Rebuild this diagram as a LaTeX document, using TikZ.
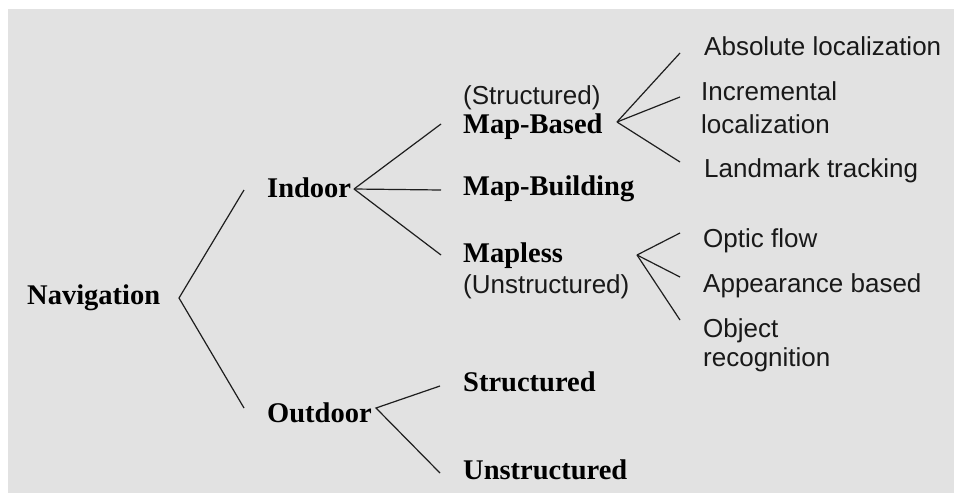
\documentclass[tikz,border=0pt]{standalone}
\usepackage{fontspec}
\setmainfont{Liberation Serif}
\newfontfamily\labelsans{Liberation Sans}
\definecolor{bgmarble}{RGB}{226,226,226}
\definecolor{inkline}{RGB}{30,30,30}
\begin{document}
\begin{tikzpicture}[x=1pt,y=-1pt,
  boldlbl/.style={anchor=base west,inner sep=0pt,font=\fontsize{28.5}{34}\selectfont\bfseries,text=black},
  sanslbl/.style={anchor=base west,inner sep=0pt,font=\labelsans\fontsize{26}{31}\selectfont,text=black!90},
  branch/.style={draw=inkline,line width=1.2pt}]
\useasboundingbox (0,0) rectangle (954,493);
\fill[white] (0,0) rectangle (954,493);
\fill[bgmarble] (8,9) rectangle (954,493);

% labels
\node[boldlbl] (nav) at (27,304) {Navigation};
\node[boldlbl] (indoor) at (267,197) {Indoor};
\node[boldlbl] (outdoor) at (267,422) {Outdoor};
\node[sanslbl] (structp) at (463,104) {(Structured)};
\node[boldlbl] (mapbased) at (463,133) {Map-Based};
\node[boldlbl] (mapbuild) at (463,195) {Map-Building};
\node[boldlbl] (mapless) at (463,262) {Mapless};
\node[sanslbl] (unstructp) at (463,293) {(Unstructured)};
\node[boldlbl] (ostruct) at (463,391) {Structured};
\node[boldlbl] (ounstruct) at (463,479) {Unstructured};
\node[sanslbl] (absloc) at (704,55) {Absolute localization};
\node[sanslbl] (incr1) at (701,100) {Incremental};
\node[sanslbl] (incr2) at (701,133) {localization};
\node[sanslbl] (landmark) at (704,177) {Landmark tracking};
\node[sanslbl] (optic) at (703,247) {Optic flow};
\node[sanslbl] (appear) at (703,292) {Appearance based};
\node[sanslbl] (obj1) at (703,337) {Object};
\node[sanslbl] (obj2) at (703,366) {recognition};

% branch points
\coordinate (navA) at (179,298);
\coordinate (navU) at (244,190);
\coordinate (navD) at (244,408);
\coordinate (inA) at (354,189);
\coordinate (inU) at (441,124);
\coordinate (inM) at (441,190);
\coordinate (inD) at (441,255);
\coordinate (outA) at (376,408);
\coordinate (outU) at (440,386);
\coordinate (outD) at (440,473);
\coordinate (mbA) at (617,122);
\coordinate (mbU) at (680,53);
\coordinate (mbM) at (680,97);
\coordinate (mbD) at (680,162);
\coordinate (mlA) at (637,255);
\coordinate (mlU) at (680,233);
\coordinate (mlM) at (680,277);
\coordinate (mlD) at (680,320);

\draw[branch] (navU) -- (navA) -- (navD);
\draw[branch] (inA) -- (inU);
\draw[branch] (inA) -- (inM);
\draw[branch] (inA) -- (inD);
\draw[branch] (outU) -- (outA) -- (outD);
\draw[branch] (mbA) -- (mbU);
\draw[branch] (mbA) -- (mbM);
\draw[branch] (mbA) -- (mbD);
\draw[branch] (mlA) -- (mlU);
\draw[branch] (mlA) -- (mlM);
\draw[branch] (mlA) -- (mlD);
\end{tikzpicture}
\end{document}
